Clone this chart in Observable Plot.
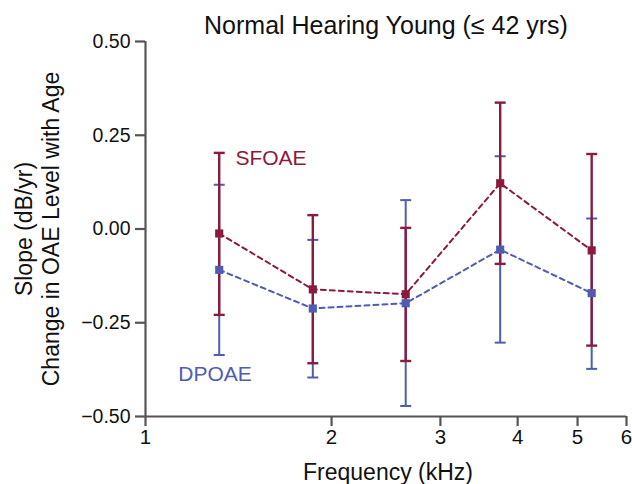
<!DOCTYPE html>
<html><head><meta charset="utf-8">
<script src="https://cdn.jsdelivr.net/npm/d3@7"></script>
<script src="https://cdn.jsdelivr.net/npm/@observablehq/plot@0.6"></script>
<style>body{margin:0;background:#fff;} svg{display:block;}</style>
</head><body><div id="chart"></div>
<script>
const freqs = [1.316, 1.865, 2.636, 3.748, 5.27];
const sfoaeMean = [-0.012, -0.161, -0.174, 0.122, -0.057];
const sfoaeHi   = [0.203, 0.037, 0.003, 0.337, 0.200];
const sfoaeLo   = [-0.229, -0.358, -0.352, -0.093, -0.311];
const dpoaeMean = [-0.109, -0.212, -0.198, -0.055, -0.171];
const dpoaeHi   = [0.118, -0.029, 0.077, 0.194, 0.028];
const dpoaeLo   = [-0.336, -0.396, -0.472, -0.303, -0.373];
const xTicks = [1, 2, 3, 4, 5, 6];
const yTicks = [-0.5, -0.25, 0, 0.25, 0.5];
const seriesNames = ["SFOAE", "DPOAE"];
const labelX = [1.398, 1.13];
const labelY = [0.171, -0.405];
const colors = {SFOAE: "#8b1a3b", DPOAE: "#4f5cb0"};
const title = "Normal Hearing Young (≤ 42 yrs)";

const mk = (name, m, hi, lo) => freqs.map((f, i) => ({series: name, f, m: m[i], hi: hi[i], lo: lo[i]}));
const sf = mk("SFOAE", sfoaeMean, sfoaeHi, sfoaeLo);
const dp = mk("DPOAE", dpoaeMean, dpoaeHi, dpoaeLo);
const labels = seriesNames.map((s, i) => ({s, x: labelX[i], y: labelY[i]}));

const capSymbol = {draw(ctx, size) { const r = Math.sqrt(size / Math.PI); ctx.moveTo(-r, 0); ctx.lineTo(r, 0); }};
const font = "Liberation Sans, Arial, Helvetica, sans-serif";
const axisColor = "#555";

function bars(data, color, w) {
  return [
    Plot.ruleX(data, {x: "f", y1: "lo", y2: "hi", stroke: color, strokeWidth: w}),
    Plot.dot(data, {x: "f", y: "hi", symbol: capSymbol, r: 5.5, stroke: color, strokeWidth: w, fill: "none"}),
    Plot.dot(data, {x: "f", y: "lo", symbol: capSymbol, r: 5.5, stroke: color, strokeWidth: w, fill: "none"})
  ];
}

const chart = Plot.plot({
  width: 632, height: 484,
  marginLeft: 145, marginRight: 6, marginTop: 41, marginBottom: 68,
  style: {fontFamily: font, background: "#fff", color: "#111"},
  x: {type: "log", domain: [1, 6]},
  y: {domain: [-0.5, 0.5]},
  marks: [
    Plot.ruleX([xTicks[0]], {y1: yTicks[0], y2: yTicks[yTicks.length - 1], stroke: axisColor, strokeWidth: 2.2}),
    Plot.ruleY([yTicks[0]], {x1: xTicks[0], x2: xTicks[xTicks.length - 1], stroke: axisColor, strokeWidth: 2.2}),
    Plot.axisX({ticks: xTicks, tickFormat: d => String(d), tickSize: 10, tickPadding: 3, stroke: axisColor, strokeWidth: 2.2, fontSize: 20.5, label: null, color: "#111"}),
    Plot.axisY({ticks: yTicks, tickFormat: d3.format(".2f"), tickSize: 10, tickPadding: 5, stroke: axisColor, strokeWidth: 2.2, fontSize: 19.5, label: null, color: "#111"}),
    ...bars(dp, colors.DPOAE, 2),
    ...bars(sf, colors.SFOAE, 2.4),
    Plot.line(dp, {x: "f", y: "m", stroke: colors.DPOAE, strokeWidth: 2, strokeDasharray: "5,4"}),
    Plot.line(sf, {x: "f", y: "m", stroke: colors.SFOAE, strokeWidth: 2, strokeDasharray: "5,4"}),
    Plot.dot(dp, {x: "f", y: "m", symbol: "square", r: 4.6, fill: colors.DPOAE, stroke: "none"}),
    Plot.dot(sf, {x: "f", y: "m", symbol: "square", r: 4.6, fill: colors.SFOAE, stroke: "none"}),
    Plot.text(labels, {x: "x", y: "y", text: "s", fill: d => colors[d.s], fontSize: 21, textAnchor: "start", lineAnchor: "bottom"}),
    Plot.text([title], {frameAnchor: "top", dy: -8, lineAnchor: "bottom", fontSize: 25, fill: "#111"}),
    Plot.text(["Frequency (kHz)"], {frameAnchor: "bottom", dy: 63, dx: 2, lineAnchor: "bottom", fontSize: 23, fill: "#111"}),
    Plot.text(["Slope (dB/yr)\nChange in OAE Level with Age"], {frameAnchor: "left", dx: -108.5, rotate: -90, textAnchor: "middle", lineAnchor: "middle", lineHeight: 1.17, fontSize: 23, fill: "#111"})
  ]
});
document.getElementById("chart").appendChild(chart);
</script>
</body></html>
